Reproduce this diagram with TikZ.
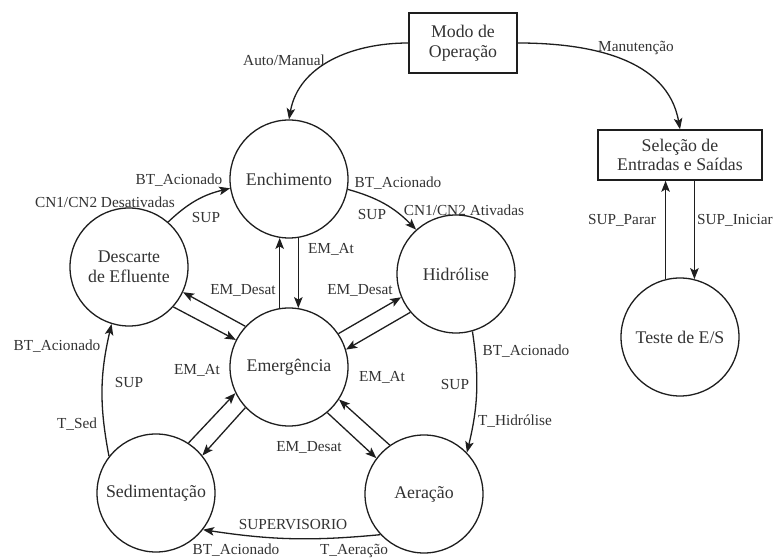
\documentclass[tikz,border=0pt]{standalone}
\usepackage{fontspec}
\setmainfont{Liberation Serif}
\usetikzlibrary{arrows.meta,calc}
\definecolor{ink}{HTML}{1E1E1E}
\definecolor{txt}{HTML}{333333}
\begin{document}
\begin{tikzpicture}[x=1pt,y=1pt,
  state/.style={circle,draw=ink,line width=1.3pt,minimum size=118pt,inner sep=0pt,
    text=txt,align=center,font=\fontsize{17.8}{20}\selectfont},
  modebox/.style={rectangle,draw=ink,line width=1.5pt,inner sep=0pt,
    text=txt,align=center,font=\fontsize{17.8}{19.5}\selectfont},
  lbl/.style={inner sep=0pt,text=txt,font=\fontsize{15.3}{17}\selectfont},
  conn/.style={draw=ink,line width=1.3pt,-{Stealth[length=11pt,width=8.5pt,inset=2.5pt]}}]
\useasboundingbox[fill=white] (0,0) rectangle (779,559);

% states
\node[state] (ench) at (289,380) {Enchimento};
\node[state] (desc) at (129,292) {Descarte\\de Efluente};
\node[state] (hidr) at (456,285) {Hidrólise};
\node[state] (emer) at (289,192) {Emergência};
\node[state] (sedi) at (156,66) {Sedimentação};
\node[state] (aera) at (424,65) {Aeração};
\node[state] (teste) at (680,222) {Teste de E/S};
\node[modebox,minimum width=108pt,minimum height=60pt] (modo) at (463,516) {Modo de\\Operação};
\node[modebox,minimum width=164pt,minimum height=50pt] (sel) at (680,404) {Seleção de\\Entradas e Saídas};

% connectors
\draw[conn] (modo.west) to[out=180,in=80] (ench.north);
\draw[conn] (modo.east) to[out=0,in=100] (sel.north);
\coordinate (selA) at (teste.104 |- sel.south);
\coordinate (selB) at (teste.76 |- sel.south);
\draw[conn] (teste.104) -- (selA);
\draw[conn] (selB) -- (teste.76);

\draw[conn] (desc.49) to[bend left=15] (ench.189);
\draw[conn] (ench.-10) to[bend left=15] (hidr.132);
\draw[conn] (emer.99) -- (ench.261);
\draw[conn] (ench.279) -- (emer.81);
\draw[conn] (emer.137) -- (desc.-25);
\draw[conn] (desc.-42) -- (emer.153);
\draw[conn] (emer.34.5) -- (hidr.203);
\draw[conn] (hidr.220.5) -- (emer.17);
\draw[conn] (sedi.57.3) -- (emer.206.6);
\draw[conn] (emer.223.6) -- (sedi.39.9);
\draw[conn] (emer.-50.4) -- (aera.143.7);
\draw[conn] (aera.125.8) -- (emer.-33.1);
\draw[conn] (hidr.-74) to[bend left=11] (aera.44);
\draw[conn] (aera.223) to[bend left=7] (sedi.-38);
\draw[conn] (sedi.142.5) to[bend left=12] (desc.253);

% labels
\node[lbl] (l1) at (284,499) {Auto/Manual};
\node[lbl] (l2) at (636,511) {Manutenção};
\node[lbl] (l3) at (622,339) {SUP\_Parar};
\node[lbl] (l4) at (735,339) {SUP\_Iniciar};
\node[lbl] (l5) at (179,379) {BT\_Acionado};
\node[lbl] (l6) at (105,357) {CN1/CN2 Desativadas};
\node[lbl] (l7) at (206,341) {SUP};
\node[lbl] (l8) at (398,376) {BT\_Acionado};
\node[lbl] (l9) at (372,344) {SUP};
\node[lbl] (l10) at (464,349) {CN1/CN2 Ativadas};
\node[lbl] (l11) at (331,310) {EM\_At};
\node[lbl] (l12) at (243,269) {EM\_Desat};
\node[lbl] (l13) at (360,269) {EM\_Desat};
\node[lbl] (l14) at (382,182) {EM\_At};
\node[lbl] (l15) at (197,189) {EM\_At};
\node[lbl] (l16) at (309,112) {EM\_Desat};
\node[lbl] (l17) at (57,213) {BT\_Acionado};
\node[lbl] (l18) at (129,176) {SUP};
\node[lbl] (l19) at (77,135) {T\_Sed};
\node[lbl] (l20) at (526,208) {BT\_Acionado};
\node[lbl] (l21) at (455,174) {SUP};
\node[lbl] (l22) at (515,138) {T\_Hidrólise};
\node[lbl] (l23) at (293,34) {SUPERVISORIO};
\node[lbl] (l24) at (236,8.5) {BT\_Acionado};
\node[lbl] (l25) at (354,8.5) {T\_Aeração};
\end{tikzpicture}
\end{document}
